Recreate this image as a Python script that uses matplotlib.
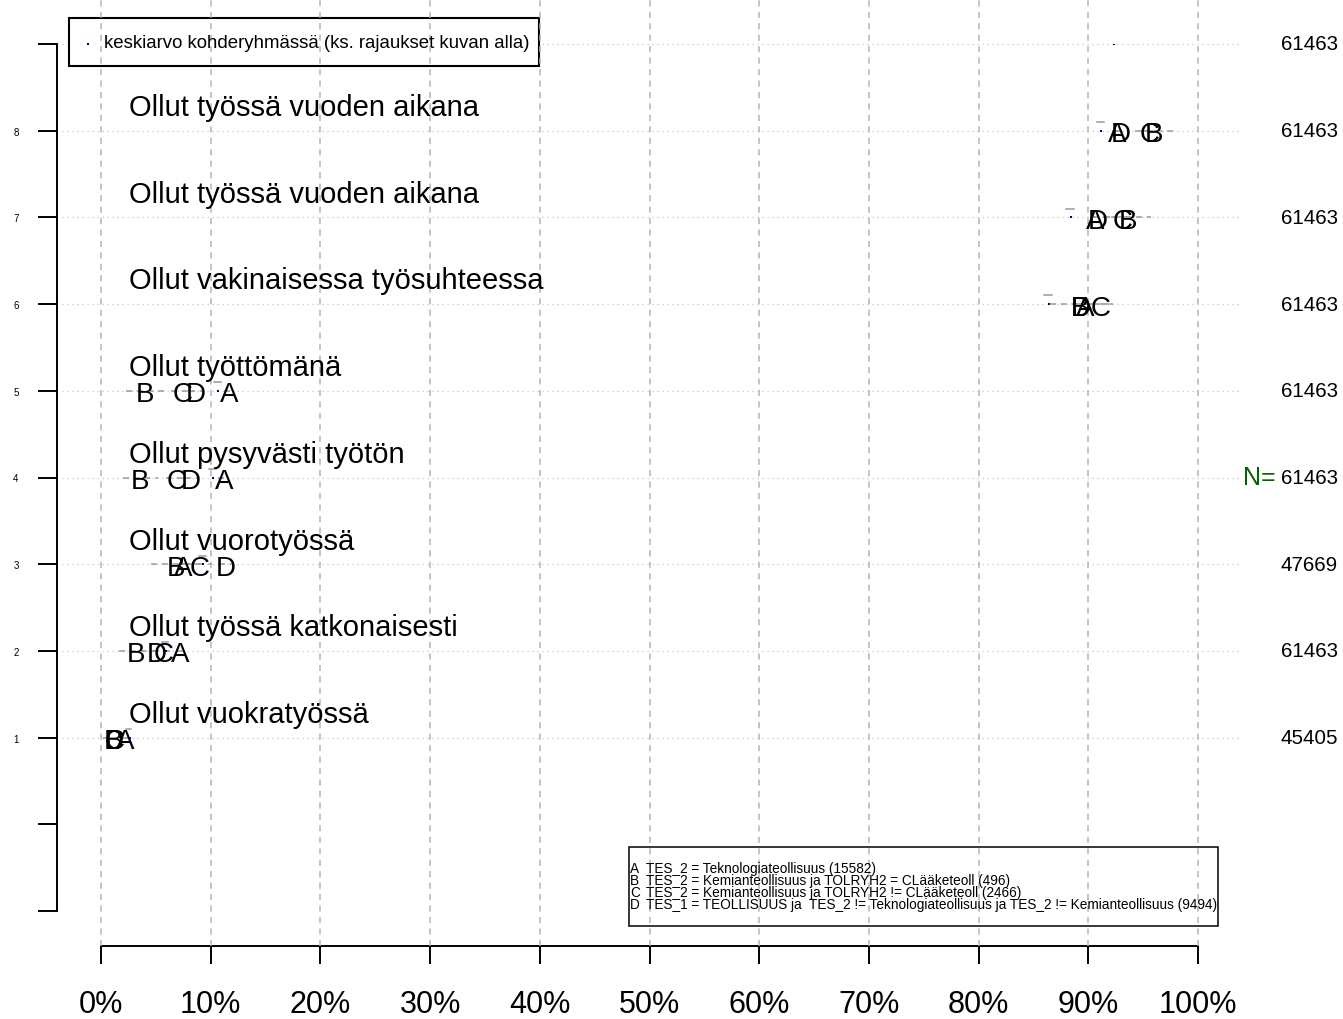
import numpy as np
import matplotlib
matplotlib.use('Agg')
import matplotlib.pyplot as plt
from matplotlib.patches import Rectangle

plt.rcParams['font.family'] = ['Liberation Sans', 'DejaVu Sans']

# rows from top to bottom (row 9 is the "keskiarvo" legend row)
rows = [8, 7, 6, 5, 4, 3, 2, 1]
row_labels = [
    'Ollut työssä vuoden aikana',
    'Ollut työssä vuoden aikana',
    'Ollut vakinaisessa työsuhteessa',
    'Ollut työttömänä',
    'Ollut pysyvästi työtön',
    'Ollut vuorotyössä',
    'Ollut työssä katkonaisesti',
    'Ollut vuokratyössä',
]
# overall mean (%) per row, row 9 first
mean_rows = [9, 8, 7, 6, 5, 4, 3, 2, 1]
mean_pct = [92.3, 91.2, 88.4, 86.4, 10.7, 10.2, 9.3, 5.9, 2.6]
n_total = [61463, 61463, 61463, 61463, 61463, 61463, 47669, 61463, 45405]

# group shares (%) per row (rows 8..1)
groups = ['A', 'B', 'C', 'D']
group_n = [15582, 496, 2466, 9494]
pct_A = [92.6, 90.6, 89.7, 11.7, 11.2, 7.5, 7.2, 2.2]
pct_B = [96.0, 93.6, 89.2, 4.0, 3.6, 6.8, 3.2, 1.15]
pct_C = [95.6, 93.1, 91.1, 7.4, 6.9, 9.0, 5.7, 1.2]
pct_D = [93.0, 90.9, 89.3, 8.6, 8.2, 11.4, 5.1, 1.15]
group_pct = [pct_A, pct_B, pct_C, pct_D]

legend_lines = [
    'TES_2 = Teknologiateollisuus (15582)',
    'TES_2 = Kemianteollisuus ja TOLRYH2 = CLääketeoll (496)',
    'TES_2 = Kemianteollisuus ja TOLRYH2 != CLääketeoll (2466)',
    'TES_1 = TEOLLISUUS ja  TES_2 != Teknologiateollisuus ja TES_2 != Kemianteollisuus (9494)',
]

x_ticks = list(range(0, 101, 10))

fig = plt.figure(figsize=(13.43, 10.20), dpi=100)
ax = fig.add_axes([101 / 1343, 108 / 1020, 1097 / 1343, 867 / 1020])
ax.set_xlim(0, 100)
ax.set_ylim(-1, 9)

# axes like R: detached left and bottom axis lines
for s in ('top', 'right'):
    ax.spines[s].set_visible(False)
ax.spines['left'].set_position(('data', -4.0))
ax.spines['left'].set_bounds(-1, 9)
ax.spines['left'].set_linewidth(1.4)
ax.spines['bottom'].set_position(('data', -1.404))
ax.spines['bottom'].set_bounds(0, 100)
ax.spines['bottom'].set_linewidth(1.4)

ax.set_yticks(range(-1, 10))
ax.set_yticklabels(['', ''] + [str(r) for r in range(1, 9)] + [''])
ax.tick_params(axis='y', length=13.7, width=1.4, labelsize=7, pad=14)
ax.set_xticks(x_ticks)
ax.set_xticklabels([f'{t}%' for t in x_ticks])
ax.tick_params(axis='x', length=13, width=1.4, labelsize=22, pad=18)

# vertical dashed grid
for t in x_ticks:
    ln, = ax.plot([t, t], [-1.404, 9.55], color='#b4b4b4', lw=1.1, zorder=4, clip_on=False)
    ln.set_dashes((4, 3.5))

# dotted row lines
for r in mean_rows:
    ax.plot([-3.55, 103.8], [r, r], color='#c4c4c4', lw=0.9, ls=(0, (1, 3)), zorder=1, clip_on=False)

# row labels
for r, lab in zip(rows, row_labels):
    ax.text(2.55, r + 0.18, lab, fontsize=21, ha='left', va='baseline', zorder=5)

# confidence intervals of groups (dashed grey) and of the overall mean
for pcts, n in zip(group_pct, group_n):
    for r, p in zip(rows, pcts):
        q = p / 100
        h = 196 * np.sqrt(q * (1 - q) / n)
        ln, = ax.plot([p - h, p + h], [r, r], color='#9a9a9a', lw=1.1, zorder=2)
        ln.set_dashes((4, 3))
for r, p, n in zip(mean_rows[1:], mean_pct[1:], n_total[1:]):
    q = p / 100
    h = 196 * np.sqrt(q * (1 - q) / n)
    ax.plot([p - h - 0.15, p + h], [r + 0.1, r + 0.1], color='#9a9a9a', lw=1.1, zorder=2)

# mean dots
ax.plot(mean_pct, mean_rows, ls='none', marker='s', ms=1.6, color='#000080', mew=0, zorder=6)

# group letters
for g, pcts in zip(groups, group_pct):
    for r, p in zip(rows, pcts):
        ax.text(p, r - 0.12, g, fontsize=20, ha='center', va='baseline', zorder=5)

# N values at right
for r, n in zip(mean_rows, n_total):
    ax.text(112.76, r, str(n), fontsize=14.8, ha='right', va='center', clip_on=False)
ax.text(107.1, 4, 'N=', fontsize=18, color='#006400', ha='right', va='center', clip_on=False)

# top legend box
ax.add_patch(Rectangle((-2.92, 8.746), 42.85, 0.554, facecolor='white', edgecolor='black',
                       lw=1.5, zorder=3, clip_on=False))
ax.plot([-1.19], [9.0], marker='s', ms=1.6, color='#000080', mew=0, zorder=6, clip_on=False)
ax.text(0.27, 9.02, 'keskiarvo kohderyhmässä (ks. rajaukset kuvan alla)', fontsize=13.4,
        ha='left', va='center', zorder=5, clip_on=False)

# bottom legend box
ax.add_patch(Rectangle((48.13, -1.173), 53.69, 0.911, facecolor='white', edgecolor='black',
                       lw=1.1, zorder=3, clip_on=False))
leg_y = [-0.504, -0.642, -0.781, -0.919]
for g, txt, y in zip(groups, legend_lines, leg_y):
    ax.text(48.66, y, g, fontsize=9.8, ha='center', va='center', zorder=5)
    ax.text(49.68, y, txt, fontsize=9.8, ha='left', va='center', zorder=5)

fig.savefig('out.png', dpi=100)
